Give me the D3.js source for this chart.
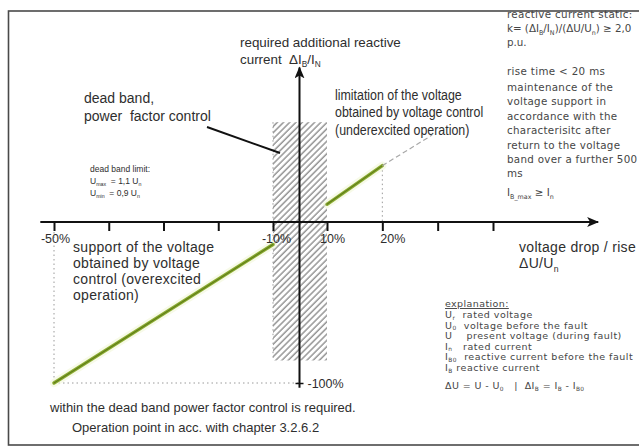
<!DOCTYPE html>
<html>
<head>
<meta charset="utf-8">
<script src="https://cdn.jsdelivr.net/npm/d3@7"></script>
<style>
  html, body { margin: 0; padding: 0; background: #fff; }
  svg { display: block; }
  text { white-space: pre; }
</style>
</head>
<body>
<svg id="chart" width="639" height="448"></svg>
<script>
// Reactive current support: voltage deviation ΔU/U (%) vs. required additional reactive current ΔI_B/I_N (%)
const xTickValues = [-50, -40, -30, -20, -10, 10, 20, 30, 40];
const xTickLabels = ["-50%", "", "", "", "-10%", "10%", "20%", "", ""];
const yTickValues = [-100];
const yTickLabels = ["-100%"];
const deadBandLimits = [-10, 10];
const deadBandCurrent = [62, -86];
const overexcitedU = [-50, -10];
const overexcitedI = [-100, -14];
const underexcitedU = [10, 20];
const underexcitedI = [11, 35];
const limitationU = [20, 29];
const limitationI = [35, 54];
const xAxisExtent = [-52.5, 59];
const yAxisExtent = [-103, 96];

const svg = d3.select("#chart");
const ink = "#2e2e2e";

// Piecewise scale: the dead band between -10% and +10% is drawn compressed
const x = d3.scaleLinear().domain([-50, -10, 0, 10, 40]).range([54, 273, 299.5, 327, 493]);
const y = d3.scaleLinear().domain([-100, 0]).range([383, 222]);

const defs = svg.append("defs");
defs.append("marker")
  .attr("id", "arrow").attr("viewBox", "0 0 12 10")
  .attr("refX", 11).attr("refY", 5)
  .attr("markerWidth", 12).attr("markerHeight", 10)
  .attr("markerUnits", "userSpaceOnUse").attr("orient", "auto")
  .append("path").attr("d", "M0,0 L12,5 L0,10 L3,5 Z").attr("fill", "#111");

const hatch = defs.append("pattern")
  .attr("id", "hatch").attr("patternUnits", "userSpaceOnUse")
  .attr("width", 4.4).attr("height", 4.4)
  .attr("patternTransform", "rotate(45)");
hatch.append("rect").attr("width", 4.4).attr("height", 4.4).attr("fill", "#fff");
hatch.append("line").attr("x1", 1).attr("y1", 0).attr("x2", 1).attr("y2", 4.4)
  .attr("stroke", "#8a8a8a").attr("stroke-width", 1.5);

// rich text helper: "_{...}" becomes a subscript
function rich(sel, str, fs, subShift) {
  const parts = str.split(/(_\{[^}]*\})/);
  let sub = false;
  parts.forEach(p => {
    if (!p) return;
    const m = p.match(/^_\{([^}]*)\}$/);
    if (m) {
      sel.append("tspan").attr("font-size", fs * 0.62).attr("dy", fs * subShift).text(m[1]);
      sub = true;
    } else {
      sel.append("tspan").attr("dy", sub ? -fs * subShift : 0).text(p);
      sub = false;
    }
  });
}
function block(lines, x0, y0, lh, fs, family, opts = {}) {
  const g = svg.append("g");
  lines.forEach((ln, i) => {
    const t = g.append("text")
      .attr("x", x0).attr("y", y0 + i * lh)
      .attr("font-family", family).attr("font-size", fs)
      .attr("fill", opts.fill || ink)
      .attr("letter-spacing", opts.ls || 0);
    if (opts.scaleX) t.attr("transform", `translate(${x0},0) scale(${opts.scaleX},1) translate(${-x0},0)`);
    rich(t, ln, fs, opts.sub == null ? 0.26 : opts.sub);
  });
  return g;
}

// frame
svg.append("rect").attr("x", 8.5).attr("y", 11).attr("width", 700).attr("height", 434)
  .attr("fill", "none").attr("stroke", "#4a4a4a").attr("stroke-width", 1.6);

// dead band (hatched)
svg.append("rect")
  .attr("x", x(deadBandLimits[0])).attr("y", y(deadBandCurrent[0]))
  .attr("width", x(deadBandLimits[1]) - x(deadBandLimits[0]))
  .attr("height", y(deadBandCurrent[1]) - y(deadBandCurrent[0]))
  .attr("fill", "url(#hatch)").attr("opacity", 0.9);
svg.append("line")
  .attr("x1", x(deadBandLimits[0])).attr("x2", x(deadBandLimits[0]))
  .attr("y1", y(deadBandCurrent[0])).attr("y2", y(deadBandCurrent[1]))
  .attr("stroke", "#9a9a9a").attr("stroke-width", 1).attr("stroke-dasharray", "1.5,3");

// guide lines
function guide(x1, y1, x2, y2) {
  svg.append("line").attr("x1", x1).attr("y1", y1).attr("x2", x2).attr("y2", y2)
    .attr("stroke", "#9a9a9a").attr("stroke-width", 1).attr("stroke-dasharray", "1.5,3");
}
guide(x(overexcitedU[0]), y(0) + 10, x(overexcitedU[0]), y(overexcitedI[0]));
guide(x(overexcitedU[0]), y(overexcitedI[0]), x(0), y(overexcitedI[0]));
guide(x(underexcitedU[1]), y(underexcitedI[1]), x(underexcitedU[1]), y(0));

// characteristic lines
const line = d3.line().x(d => x(d[0])).y(d => y(d[1]));
const segs = [d3.zip(overexcitedU, overexcitedI), d3.zip(underexcitedU, underexcitedI)];
segs.forEach(s => {
  svg.append("path").attr("d", line(s)).attr("fill", "none")
    .attr("stroke", "#f1f6d8").attr("stroke-width", 8).attr("stroke-linecap", "round").attr("opacity", 0.6);
});
segs.forEach(s => {
  svg.append("path").attr("d", line(s)).attr("fill", "none")
    .attr("stroke", "#8aab30").attr("stroke-width", 3.4).attr("stroke-linecap", "round");
  svg.append("path").attr("d", line(s)).attr("fill", "none")
    .attr("stroke", "#5f7c19").attr("stroke-width", 1.1).attr("stroke-linecap", "round");
});
svg.append("path").attr("d", line(d3.zip(limitationU, limitationI))).attr("fill", "none")
  .attr("stroke", "#a8a8a8").attr("stroke-width", 1.2).attr("stroke-dasharray", "5,3");

// x axis
const xAxis = d3.axisBottom(x).tickValues(xTickValues).tickSize(9)
  .tickFormat((d, i) => xTickLabels[i]);
const gx = svg.append("g").attr("transform", `translate(0,${y(0)})`).call(xAxis);
gx.select(".domain").remove();
gx.selectAll(".tick line").attr("stroke", "#111").attr("stroke-width", 2);
const labelShift = { "-50": 1, "-10": 3, "10": 5, "20": 10 };
gx.selectAll(".tick text")
  .attr("font-family", "Liberation Sans, Arial, sans-serif").attr("font-size", 12.5)
  .attr("fill", ink).attr("y", 12).attr("dy", "0.71em")
  .attr("dx", d => labelShift[d] || 0);
svg.append("line")
  .attr("x1", x(xAxisExtent[0])).attr("x2", x(xAxisExtent[1]))
  .attr("y1", y(0)).attr("y2", y(0))
  .attr("stroke", "#111").attr("stroke-width", 2).attr("marker-end", "url(#arrow)");

// y axis
svg.append("line")
  .attr("x1", x(0)).attr("x2", x(0))
  .attr("y1", y(yAxisExtent[0])).attr("y2", y(yAxisExtent[1]))
  .attr("stroke", "#111").attr("stroke-width", 2).attr("marker-end", "url(#arrow)");
const yAxis = d3.axisRight(y).tickValues(yTickValues).tickSize(4)
  .tickFormat((d, i) => yTickLabels[i]);
const gy = svg.append("g").attr("transform", `translate(${x(0) - 4},0)`).call(yAxis);
gy.select(".domain").remove();
gy.selectAll(".tick line").attr("stroke", "#111").attr("stroke-width", 1.5).attr("x2", 8);
gy.selectAll(".tick text")
  .attr("font-family", "Liberation Sans, Arial, sans-serif").attr("font-size", 12.5)
  .attr("fill", ink).attr("x", 12);

// annotation pointer for the dead band
svg.append("line").attr("x1", 207).attr("y1", 127).attr("x2", 280).attr("y2", 153)
  .attr("stroke", "#111").attr("stroke-width", 2);

const sans = "Liberation Sans, Arial, sans-serif";
const verd = "DejaVu Sans, Verdana, sans-serif";
const small = "#454545";

block(["required additional reactive", "current  ΔI_{B}/I_{N}"], 240, 47, 17, 13.4, sans);
block(["dead band,", "power  factor control"], 84, 103, 18, 14, sans);
block(["limitation of the voltage", "obtained by voltage control", "(underexcited operation)"],
      335, 100, 17.5, 14.6, sans, { scaleX: 0.85 });
block(["support of the voltage", "obtained by voltage", "control (overexcited", "operation)"],
      73, 252, 16, 14, sans, { ls: 0.3 });
block(["voltage drop / rise", "ΔU/U_{n}"], 519, 252, 16, 14, sans, { ls: 0.3 });
block(["dead band limit:", "U_{max}  = 1,1 U_{n}", "U_{min}  = 0,9 U_{n}"], 90, 172, 12, 8.5, sans);

block(["reactive current static:"], 507, 18, 14, 10.3, verd, { fill: small, ls: 0.35 });
block(["k= (ΔI_{B}/I_{N})/(ΔU/U_{n}) ≥ 2,0", "p.u."], 507, 32, 14, 10.3, verd, { fill: small });
block(["rise time < 20 ms"], 507, 75, 14, 10.3, verd, { fill: small, ls: 0.35 });
block(["maintenance of the", "voltage support in", "accordance with the", "characterisitc after",
       "return to the voltage", "band over a further 500", "ms"], 507, 91, 14.4, 10.3, verd,
      { fill: small, ls: 0.3 });
block(["I_{B_max} ≥ I_{n}"], 507, 196, 14, 10.3, verd, { fill: small });

const expl = block(["explanation:"], 445, 307, 11, 9.5, verd, { fill: small, ls: 0.4 });
expl.select("text").attr("text-decoration", "underline");
block(["U_{r}  rated voltage", "U_{0}  voltage before the fault", "U    present voltage (during fault)",
       "I_{n}   rated current", "I_{B0}  reactive current before the fault", "I_{B} reactive current"],
      445, 318, 10.6, 9.5, verd, { fill: small, ls: 0.5, sub: 0.16 });
block(["ΔU = U - U_{0}   |  ΔI_{B} = I_{B} - I_{B0}"], 445, 389, 11, 9.5, verd, { fill: small, ls: 0.4, sub: 0.16 });

block(["within the dead band power factor control is required."], 50, 412, 18, 13, sans);
block(["Operation point in acc. with chapter 3.2.6.2"], 72, 432, 18, 13, sans);
</script>
</body>
</html>
